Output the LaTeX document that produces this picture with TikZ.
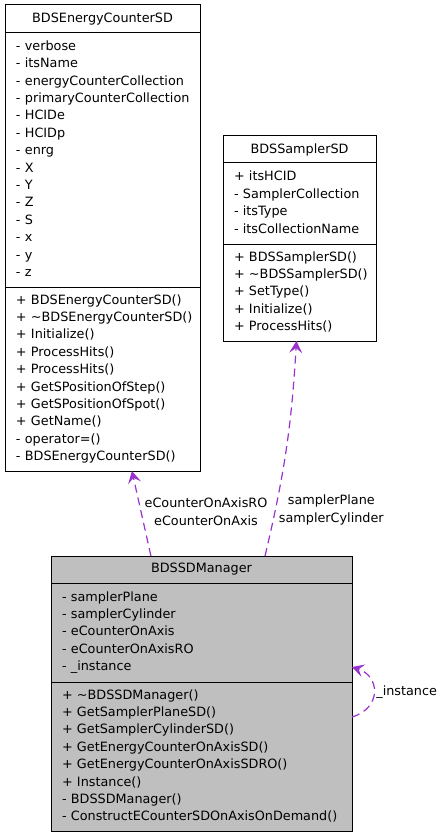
\documentclass[tikz,border=0pt]{standalone}
\usepackage{fontspec}
\setmainfont{DejaVu Sans}
\usetikzlibrary{arrows.meta,calc}
\definecolor{usage}{HTML}{9A32CD}
\definecolor{focus}{HTML}{BFBFBF}
\hyphenpenalty=10000
\exhyphenpenalty=10000
\hbadness=10000
\hfuzz=20pt

\begin{document}
\begin{tikzpicture}[x=1pt, y=-1pt, title/.style={draw, line width=1pt, outer sep=0pt, anchor=north west, align=center, inner sep=0pt, font=\fontsize{12.8}{17.4}\selectfont}, part/.style={draw, line width=1pt, outer sep=0pt, anchor=north west, align=left, inner xsep=11pt, inner ysep=0pt, font=\fontsize{12.8}{17.4}\selectfont, execute at begin node=\strut, execute at end node=\strut}, u/.style={-{Stealth[length=12pt, width=13pt, inset=5pt]}, usage, line width=1.2pt, dash pattern=on 8pt off 5pt}, lbl/.style={align=center, text=black, font=\fontsize{12.8}{17.4}\selectfont, inner sep=3pt}]
        \useasboundingbox (0,0) rectangle (441,837);
        % nodes
        \node[title, minimum width=195pt, minimum height=28pt] (ecTitle) at (5,5) {BDSEnergyCounterSD};
        \node[part, text width=173pt, minimum height=254pt] (ecAttrs) at (ecTitle.south west) {-~verbose\\-~itsName\\-~energyCounterCollection\\-~primaryCounterCollection\\-~HCIDe\\-~HCIDp\\-~enrg\\-~X\\-~Y\\-~Z\\-~S\\-~x\\-~y\\-~z};
        \node[part, text width=173pt, minimum height=184pt] (ecMethods) at (ecAttrs.south west) {+~BDSEnergyCounterSD()\\+~\textasciitilde BDSEnergyCounterSD()\\+~Initialize()\\+~ProcessHits()\\+~ProcessHits()\\+~GetSPositionOfStep()\\+~GetSPositionOfSpot()\\+~GetName()\\-~operator=()\\-~BDSEnergyCounterSD()};

        \node[title, minimum width=153pt, minimum height=27pt] (smTitle) at (223,136) {BDSSamplerSD};
        \node[part, text width=131pt, minimum height=81pt] (smAttrs) at (smTitle.south west) {+~itsHCID\\-~SamplerCollection\\-~itsType\\-~itsCollectionName};
        \node[part, text width=131pt, minimum height=97pt] (smMethods) at (smAttrs.south west) {+~BDSSamplerSD()\\+~\textasciitilde BDSSamplerSD()\\+~SetType()\\+~Initialize()\\+~ProcessHits()};

        \node[title, fill=focus, minimum width=301pt, minimum height=27pt] (mgrTitle) at (51,556) {BDSSDManager};
        \node[part, fill=focus, text width=279pt, minimum height=99pt] (mgrAttrs) at (mgrTitle.south west) {-~samplerPlane\\-~samplerCylinder\\-~eCounterOnAxis\\-~eCounterOnAxisRO\\-~\_instance};
        \node[part, fill=focus, text width=279pt, minimum height=149pt] (mgrMethods) at (mgrAttrs.south west) {+~\textasciitilde BDSSDManager()\\+~GetSamplerPlaneSD()\\+~GetSamplerCylinderSD()\\+~GetEnergyCounterOnAxisSD()\\+~GetEnergyCounterOnAxisSDRO()\\+~Instance()\\-~BDSSDManager()\\-~ConstructECounterSDOnAxisOnDemand()};
        % edges
        \draw[u] ($(mgrTitle.north west)!0.332!(mgrTitle.north east)$) -- node[lbl, anchor=west, pos=0.52] (ecLbl) {eCounterOnAxisRO\\eCounterOnAxis} ($(ecMethods.south west)!0.651!(ecMethods.south east)$);
        \draw[u] ($(mgrTitle.north west)!0.711!(mgrTitle.north east)$) to[bend right=5] node[lbl, anchor=west, pos=0.2] (smLbl) {samplerPlane\\samplerCylinder} ($(smMethods.south west)!0.48!(smMethods.south east)$);
        \draw[u] ($(mgrMethods.north east)+(0,35)$) .. controls +(30,-9) and +(28,9) .. node[lbl, anchor=west, pos=0.5, inner sep=2pt] (instLbl) {\_instance} ($(mgrAttrs.south east)+(0,-15)$);
    \end{tikzpicture}
\end{document}
